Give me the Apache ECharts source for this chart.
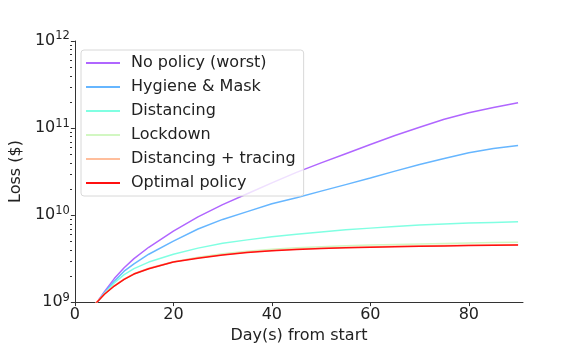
<!DOCTYPE html>
<html><head><meta charset="utf-8">
<script src="https://cdn.jsdelivr.net/npm/echarts@6/dist/echarts.min.js"></script>
<style>html,body{margin:0;padding:0;background:#fff}#c{width:581px;height:349px}</style>
</head><body><div id="c"></div>
<script>
const days = [4,5,6,8,10,12,15,20,25,30,35,40,45,50,55,60,65,70,75,80,85,90];
const noPolicy = [0.891e9,1.096e9,1.318e9,1.862e9,2.483e9,3.162e9,4.266e9,6.531e9,9.55e9,1.318e10,1.758e10,2.344e10,3.090e10,3.981e10,5.070e10,6.457e10,8.222e10,1.023e11,1.259e11,1.496e11,1.718e11,1.950e11];
const hygieneMask = [0.912e9,1.084e9,1.288e9,1.738e9,2.265e9,2.754e9,3.548e9,5.012e9,6.918e9,8.913e9,1.096e10,1.349e10,1.585e10,1.884e10,2.239e10,2.661e10,3.199e10,3.802e10,4.467e10,5.188e10,5.821e10,6.310e10];
const distancing = [0.923e9,1.072e9,1.259e9,1.660e9,2.065e9,2.427e9,2.884e9,3.548e9,4.169e9,4.732e9,5.188e9,5.623e9,6.026e9,6.383e9,6.761e9,7.079e9,7.413e9,7.674e9,7.889e9,8.091e9,8.241e9,8.395e9];
const lockdown = [0.933e9,1.072e9,1.230e9,1.531e9,1.820e9,2.099e9,2.420e9,2.884e9,3.273e9,3.589e9,3.846e9,4.046e9,4.217e9,4.335e9,4.436e9,4.519e9,4.592e9,4.656e9,4.721e9,4.775e9,4.831e9,4.875e9];
const distTracing = [0.942e9,1.083e9,1.242e9,1.546e9,1.838e9,2.120e9,2.444e9,2.913e9,3.231e9,3.502e9,3.752e9,3.929e9,4.067e9,4.162e9,4.249e9,4.309e9,4.368e9,4.419e9,4.470e9,4.512e9,4.543e9,4.574e9];
const optimal = [0.933e9,1.072e9,1.230e9,1.531e9,1.820e9,2.099e9,2.420e9,2.884e9,3.199e9,3.467e9,3.715e9,3.890e9,4.027e9,4.121e9,4.207e9,4.266e9,4.325e9,4.375e9,4.426e9,4.467e9,4.498e9,4.529e9];
const seriesNames = ['No policy (worst)','Hygiene & Mask','Distancing','Lockdown','Distancing + tracing','Optimal policy'];
const seriesData = [noPolicy,hygieneMask,distancing,lockdown,distTracing,optimal];
const colors = ['#b066ff','#66b6ff','#80ffe2','#d2f7c2','#ffbe9c','#ff1010'];
const xTicks = [0,20,40,60,80];

const font = 'DejaVu Sans';
const chart = echarts.init(document.getElementById('c'), null, {renderer:'canvas'});
const series = seriesNames.map((n,i)=>({
  name:n, type:'line', showSymbol:false, symbol:'none', smooth:false,
  data: days.map((d,j)=>[d, seriesData[i][j]]),
  lineStyle:{color:colors[i], width:1.5}, itemStyle:{color:colors[i]},
  z: 2+i, clip:true, animation:false
}));
chart.setOption({
  animation:false,
  grid:{left:72,right:58,top:41,bottom:44,containLabel:false},
  legend:{
    orient:'vertical', left:81, top:50, data:seriesNames,
    icon:'rect', itemWidth:34, itemHeight:2, itemGap:8,
    padding:[5,8,5,5], borderColor:'#d8d8d8', borderWidth:1, borderRadius:3,
    backgroundColor:'rgba(255,255,255,0.8)',
    textStyle:{fontFamily:font, fontSize:16, color:'#222', padding:[0,0,0,6], lineHeight:16}
  },
  xAxis:{
    type:'value', min:0, max:91,
    name:'Day(s) from start', nameLocation:'middle', nameGap:24,
    nameTextStyle:{fontFamily:font, fontSize:16, color:'#222'},
    axisLine:{show:true, onZero:false, lineStyle:{color:'#333', width:1}},
    axisTick:{show:true, length:4, inside:false, customValues:xTicks, lineStyle:{color:'#333'}},
    axisLabel:{customValues:xTicks, fontFamily:font, fontSize:16, color:'#222', margin:5},
    splitLine:{show:false}
  },
  yAxis:{
    type:'log', logBase:10, min:1e9, max:1e12,
    name:'Loss ($)', nameLocation:'middle', nameGap:46, nameRotate:90,
    nameTextStyle:{fontFamily:font, fontSize:16, color:'#222'},
    axisLine:{show:true, lineStyle:{color:'#333', width:1}},
    axisTick:{show:true, length:4, lineStyle:{color:'#333'}},
    axisLabel:{fontFamily:font, fontSize:16, color:'#222', margin:5,
      formatter:v=>'{b|10}{s|'+Math.round(Math.log10(v))+'}',
      rich:{b:{fontFamily:font,fontSize:16,color:'#222'},s:{fontFamily:font,fontSize:11.5,color:'#222',verticalAlign:'top',padding:[0,0,9,0]}}},
    splitLine:{show:false}
  },
  series
});
const g = [];
for (let e=9;e<12;e++) for (let m=2;m<=9;m++){
  const p = chart.convertToPixel({yAxisIndex:0}, m*Math.pow(10,e));
  g.push({type:'line', shape:{x1:70,y1:Math.round(p)+0.5,x2:72,y2:Math.round(p)+0.5}, style:{stroke:'#333',lineWidth:1}, silent:true});
}
chart.setOption({graphic:g});
</script></body></html>
